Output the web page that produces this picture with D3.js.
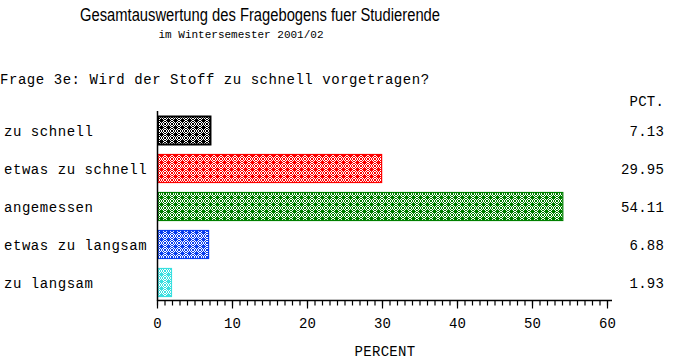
<!DOCTYPE html>
<html><head><meta charset="utf-8">
<script src="https://cdn.jsdelivr.net/npm/d3@7"></script>
<style>body{margin:0;background:#fff}svg{display:block}</style>
</head><body><div id="chart"></div>
<script>
const categories = ["zu schnell","etwas zu schnell","angemessen","etwas zu langsam","zu langsam"];
const values = [7.13, 29.95, 54.11, 6.88, 1.93];
const valueLabels = ["7.13","29.95","54.11","6.88","1.93"];
const colors = ["#000000","#ff0000","#008000","#0a40f0","#38e0e0"];
const majorTicks = [0,10,20,30,40,50,60];
const minorTicks = d3.range(0,61,1);
const title = "Gesamtauswertung des Fragebogens fuer Studierende";
const subtitle = "im Wintersemester 2001/02";
const question = "Frage 3e: Wird der Stoff zu schnell vorgetragen?";

const W=685,H=364;
const svg=d3.select("#chart").append("svg").attr("width",W).attr("height",H);
const mono="'Liberation Mono','DejaVu Sans Mono',monospace";

// patterns
const defs=svg.append("defs");
colors.forEach((c,i)=>{
  const p=defs.append("pattern").attr("id","pat"+i).attr("patternUnits","userSpaceOnUse")
    .attr("width",7).attr("height",7).attr("x",158).attr("y",117);
  p.append("rect").attr("width",7).attr("height",7).attr("fill","#fff");
  for(let a=0;a<7;a++)for(let b=0;b<7;b++){
    if((a+b)%2===0) p.append("rect").attr("x",a).attr("y",b).attr("width",1).attr("height",1)
      .attr("fill",c).attr("shape-rendering","crispEdges");
  }
  p.append("rect").attr("x",2).attr("y",2).attr("width",3).attr("height",3).attr("fill",c).attr("shape-rendering","crispEdges");
  p.append("rect").attr("x",1).attr("y",3).attr("width",5).attr("height",1).attr("fill",c).attr("shape-rendering","crispEdges");
  p.append("rect").attr("x",3).attr("y",1).attr("width",1).attr("height",5).attr("fill",c).attr("shape-rendering","crispEdges");
});

const x=d3.scaleLinear().domain([0,60]).range([157,607]);
const y=d3.scaleBand().domain(categories).range([111.5,301.5]).paddingInner(9/38).paddingOuter(9/76);

svg.append("text").attr("x",260).attr("y",21).attr("text-anchor","middle")
  .attr("font-family","'Liberation Sans',Arial,sans-serif").attr("font-size",17.5)
  .attr("textLength",360).attr("lengthAdjust","spacingAndGlyphs").text(title);
svg.append("text").attr("x",241).attr("y",38).attr("text-anchor","middle")
  .attr("font-family",mono).attr("font-size",11).text(subtitle);
svg.append("text").attr("x",0).attr("y",84)
  .attr("font-family",mono).attr("font-size",14).attr("letter-spacing",0.55).text(question);
svg.append("text").attr("x",664).attr("y",106).attr("text-anchor","end")
  .attr("font-family",mono).attr("font-size",14).attr("letter-spacing",0.2).text("PCT.");

// bars
svg.selectAll("rect.bar").data(categories).enter().append("rect").attr("class","bar")
  .attr("x",x(0)+1).attr("y",d=>y(d)+0.5)
  .attr("width",(d,i)=>x(values[i])-x(0)-1).attr("height",y.bandwidth()-1)
  .attr("fill",(d,i)=>`url(#pat${i})`).attr("stroke",(d,i)=>colors[i])
  .attr("stroke-width",(d,i)=>i===0?2:1.2);

// category labels
svg.selectAll("text.cat").data(categories).enter().append("text").attr("class","cat")
  .attr("x",4).attr("y",d=>y(d)+y.bandwidth()/2+5)
  .attr("font-family",mono).attr("font-size",14).attr("letter-spacing",0.55).text(d=>d);
// value labels
svg.selectAll("text.val").data(valueLabels).enter().append("text").attr("class","val")
  .attr("x",664).attr("y",(d,i)=>y(categories[i])+y.bandwidth()/2+5).attr("text-anchor","end")
  .attr("font-family",mono).attr("font-size",14).attr("letter-spacing",0.2).text(d=>d);

// axes
const ax=svg.append("g").attr("transform","translate(0,300.5)");
ax.call(d3.axisBottom(x).tickValues(minorTicks).tickSize(5).tickFormat(""))
  .call(g=>g.select(".domain").remove());
ax.append("g").call(d3.axisBottom(x).tickValues(majorTicks).tickSize(8).tickPadding(10).tickFormat(d3.format("d")))
  .call(g=>g.select(".domain").remove())
  .call(g=>g.selectAll("text").attr("font-family",mono).attr("font-size",14).attr("fill","#000"));
ax.selectAll("line").attr("stroke","#000").attr("stroke-width",1.2);
svg.append("line").attr("x1",157).attr("x2",612).attr("y1",300.5).attr("y2",300.5).attr("stroke","#000").attr("stroke-width",1.5);
svg.append("line").attr("x1",157.5).attr("x2",157.5).attr("y1",111).attr("y2",301).attr("stroke","#000").attr("stroke-width",1.5);

svg.append("text").attr("x",385).attr("y",356).attr("text-anchor","middle")
  .attr("font-family",mono).attr("font-size",14).attr("letter-spacing",0.3).text("PERCENT");
</script></body></html>
